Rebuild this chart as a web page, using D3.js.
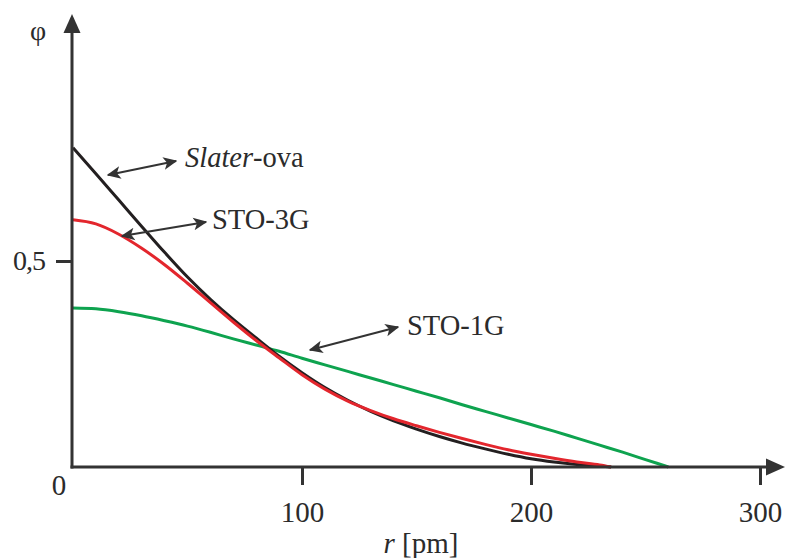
<!DOCTYPE html>
<html>
<head>
<meta charset="utf-8">
<script src="https://cdnjs.cloudflare.com/ajax/libs/d3/7.8.5/d3.min.js"></script>
<style>
  html, body { margin: 0; padding: 0; background: #fff; }
</style>
</head>
<body>
<svg id="chart" width="785" height="558"></svg>
<script>
// r [pm] sample points
const rSlater = [0,10,20,30,40,50,60,70,80,90,100,110,120,130,140,150,160,170,180,190,200,210,220,230,235];
const phiSlater = [0.775,0.712,0.648,0.584,0.521,0.461,0.407,0.358,0.313,0.269,0.229,0.193,0.162,0.135,0.112,0.092,0.074,0.058,0.044,0.031,0.020,0.012,0.006,0.002,0];
const rSTO3G = [0,10,20,30,40,50,60,70,80,90,100,110,120,130,140,150,160,170,180,190,200,210,220,230,235];
const phiSTO3G = [0.600,0.590,0.565,0.531,0.491,0.446,0.399,0.352,0.307,0.265,0.224,0.189,0.160,0.137,0.117,0.100,0.084,0.069,0.055,0.042,0.031,0.021,0.012,0.005,0];
const rSTO1G = [0,10,20,30,40,50,60,70,80,90,100,110,120,130,140,150,160,170,180,190,200,210,220,230,240,250,260];
const phiSTO1G = [0.386,0.384,0.377,0.367,0.355,0.342,0.327,0.311,0.296,0.281,0.264,0.248,0.232,0.216,0.200,0.184,0.168,0.151,0.135,0.119,0.103,0.087,0.070,0.053,0.036,0.018,0];
const xTicks = [100, 200, 300];
const xTickLabels = ["100", "200", "300"];
const yTicks = [0.5];
const yTickLabels = ["0,5"];
const seriesNames = ["Slater-ova", "STO-3G", "STO-1G"];
const seriesColors = ["#231f20", "#e3262d", "#0ea34f"];

const FONT = "'Liberation Serif', 'Times New Roman', 'DejaVu Serif', serif";
const svg = d3.select("#chart");
const x = d3.scaleLinear().domain([0, 300]).range([73, 760]);
const y = d3.scaleLinear().domain([0, 0.5]).range([467, 261]);
const axisColor = "#333333";
const textColor = "#2b2b2b";

// curves
const line = d3.line().x(d => x(d[0])).y(d => y(d[1])).curve(d3.curveMonotoneX);
const series = [
  {name: seriesNames[2], color: seriesColors[2], data: rSTO1G.map((r,i)=>[r, phiSTO1G[i]])},
  {name: seriesNames[0], color: seriesColors[0], data: rSlater.map((r,i)=>[r, phiSlater[i]])},
  {name: seriesNames[1], color: seriesColors[1], data: rSTO3G.map((r,i)=>[r, phiSTO3G[i]])}
];
svg.selectAll("path.curve").data(series).enter().append("path")
  .attr("class", "curve")
  .attr("d", d => line(d.data))
  .attr("fill", "none")
  .attr("stroke", d => d.color)
  .attr("stroke-width", 3)
  .attr("stroke-linecap", "butt");

// x axis
const xAxis = d3.axisBottom(x).tickValues(xTicks).tickSize(18).tickPadding(16)
  .tickFormat((d,i) => xTickLabels[i]);
const gx = svg.append("g").attr("transform", `translate(0,${y(0)})`).call(xAxis)
  .attr("font-family", FONT);
gx.select(".domain").remove();
gx.selectAll(".tick line").attr("stroke", axisColor).attr("stroke-width", 3);
gx.selectAll(".tick text").attr("font-size", 29).attr("fill", textColor);

// y axis
const yAxis = d3.axisLeft(y).tickValues(yTicks).tickSize(16).tickPadding(11)
  .tickFormat((d,i) => yTickLabels[i]);
const gy = svg.append("g").attr("transform", `translate(${x(0) - 1},0)`).call(yAxis)
  .attr("font-family", FONT);
gy.select(".domain").remove();
gy.selectAll(".tick line").attr("stroke", axisColor).attr("stroke-width", 3);
gy.selectAll(".tick text").attr("font-size", 28).attr("fill", textColor).attr("letter-spacing", -1);

// axis lines with arrows
const x0 = x(0) - 1, y0 = y(0);
svg.append("line").attr("x1", x0).attr("y1", y0 + 1.5).attr("x2", x0).attr("y2", 30)
  .attr("stroke", axisColor).attr("stroke-width", 3);
svg.append("line").attr("x1", x0 - 1.5).attr("y1", y0).attr("x2", 770).attr("y2", y0)
  .attr("stroke", axisColor).attr("stroke-width", 3);
svg.append("path").attr("d", `M${x0},14 L${x0 + 8.5},33 L${x0 - 8.5},33 Z`).attr("fill", axisColor);
svg.append("path").attr("d", `M785,${y0} L766,${y0 - 8.5} L766,${y0 + 8.5} Z`).attr("fill", axisColor);

const txt = svg.append("g").attr("font-family", FONT).attr("fill", textColor);
// origin label, axis titles
txt.append("text").attr("x", 59).attr("y", 495).attr("text-anchor", "middle")
  .attr("font-size", 29).text("0");
txt.append("text").attr("x", 38).attr("y", 40).attr("text-anchor", "middle")
  .attr("font-size", 28).text("φ");
const xt = txt.append("text").attr("x", 421).attr("y", 553).attr("text-anchor", "middle")
  .attr("font-size", 29);
xt.append("tspan").attr("font-style", "italic").text("r");
xt.append("tspan").text(" [pm]");

// annotations with double-headed arrows
const annotations = [
  {x1: 108, y1: 175, x2: 176, y2: 161},
  {x1: 122, y1: 236, x2: 206, y2: 222},
  {x1: 310, y1: 350, x2: 398, y2: 327}
];
const defs = svg.append("defs");
defs.append("marker").attr("id", "ah").attr("viewBox", "0 0 10 10")
  .attr("refX", 9).attr("refY", 5).attr("markerWidth", 7).attr("markerHeight", 7)
  .attr("markerUnits", "strokeWidth").attr("orient", "auto-start-reverse")
  .append("path").attr("d", "M0,0.5 L10,5 L0,9.5 L2.5,5 Z").attr("fill", axisColor);
annotations.forEach(a => {
  svg.append("line").attr("x1", a.x1).attr("y1", a.y1).attr("x2", a.x2).attr("y2", a.y2)
    .attr("stroke", axisColor).attr("stroke-width", 2)
    .attr("marker-start", "url(#ah)").attr("marker-end", "url(#ah)");
});
const t1 = txt.append("text").attr("x", 185).attr("y", 167).attr("font-size", 28.5);
t1.append("tspan").attr("font-style", "italic").text("Slater");
t1.append("tspan").text("-ova");
txt.append("text").attr("x", 212).attr("y", 229).attr("font-size", 28.5).text(seriesNames[1]);
txt.append("text").attr("x", 407).attr("y", 335).attr("font-size", 28.5).text(seriesNames[2]);
</script>
</body>
</html>
